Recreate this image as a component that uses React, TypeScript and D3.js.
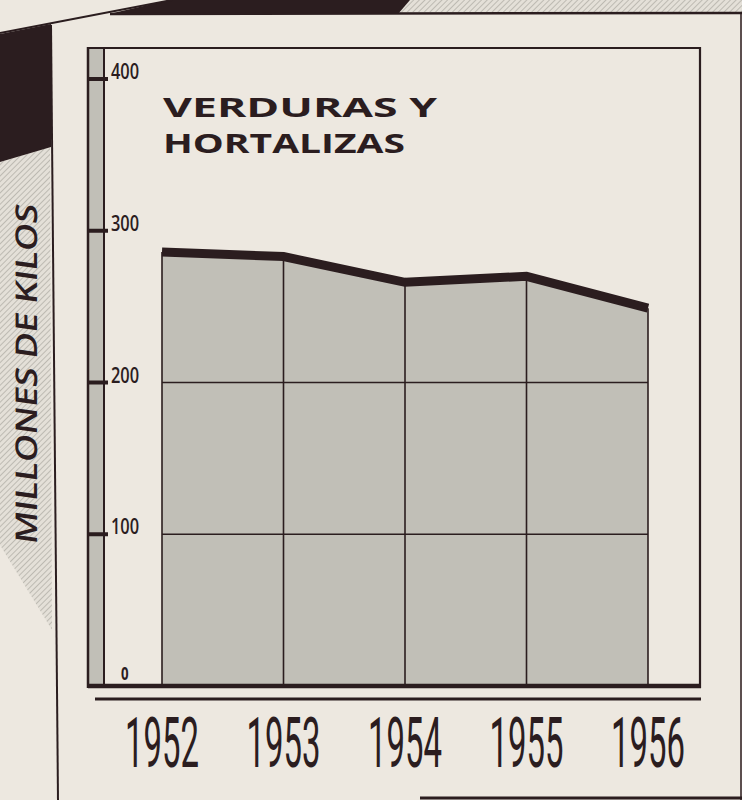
import React from 'react';
import * as d3 from 'd3';

// data
const years = [1952, 1953, 1954, 1955, 1956];
const values = [286, 283, 266, 270, 249];
const yTicks = [0, 100, 200, 300, 400];
const title = ['VERDURAS Y', 'HORTALIZAS'];
const yLabel = 'MILLONES DE KILOS';

const ink = '#2b1d1f';
const cream = '#ede8e0';
const gray = '#c1bfb7';

const App = () => {
  const width = 742;
  const height = 800;

  const x = d3.scaleLinear().domain([1952, 1956]).range([162, 648]);
  const y = d3.scaleLinear().domain([0, 400]).range([686, 79]);

  const pts = years.map((yr, i) => [yr, values[i]] as [number, number]);

  const area = d3.area<[number, number]>()
    .x(d => x(d[0]))
    .y0(y(0))
    .y1(d => y(d[1]));

  const line = d3.line<[number, number]>()
    .x(d => x(d[0]))
    .y(d => y(d[1]));

  const minVal = d3.min(values) as number;

  return (
    <svg width={width} height={height}
      style={{ position: 'absolute', left: 0, top: 0, background: cream }}>
      <defs>
        <pattern id="hatch" width="4" height="4" patternUnits="userSpaceOnUse"
          patternTransform="rotate(45)">
          <rect width="4" height="4" fill="#e4e0d8" />
          <line x1="0" y1="0" x2="0" y2="4" stroke="#b3b0a9" strokeWidth="1.6" />
        </pattern>
      </defs>

      <rect width={width} height={height} fill={cream} />

      {/* background decorations of the page */}
      <polygon points="400,0 742,0 742,12 392,12" fill="url(#hatch)" />
      <polygon points="0,162 50,147 52,630 0,545" fill="url(#hatch)" />
      <polygon points="113,13 170,0 410,0 398,14 113,14" fill={ink} />
      <polygon points="0,34 51,24 51,147 0,162" fill={ink} />
      <line x1={0} y1={33} x2={172} y2={0} stroke={ink} strokeWidth={2} />
      <line x1={110} y1={14} x2={742} y2={13} stroke={ink} strokeWidth={2.5} />
      <line x1={51} y1={25} x2={58} y2={800} stroke={ink} strokeWidth={2} />
      <line x1={741} y1={13} x2={741} y2={800} stroke={ink} strokeWidth={1.5} />
      <line x1={420} y1={798} x2={742} y2={798} stroke={ink} strokeWidth={3} />

      <text transform="translate(37,375) rotate(-90) skewX(-8)" textAnchor="middle"
        fontFamily="'Open Sans'" fontWeight={600} fontSize={30} fill={ink}
        textLength={340} lengthAdjust="spacingAndGlyphs">{yLabel}</text>

      {/* chart frame */}
      <rect x={88} y={48} width={16} height={638} fill={gray} />
      <line x1={88} y1={47} x2={88} y2={688} stroke={ink} strokeWidth={2.5} />
      <line x1={104} y1={48} x2={104} y2={686} stroke={ink} strokeWidth={2} />
      <line x1={87} y1={48} x2={701} y2={48} stroke={ink} strokeWidth={2} />
      <line x1={700} y1={47} x2={700} y2={688} stroke={ink} strokeWidth={2.2} />

      {/* area */}
      <path d={area(pts) as string} fill={gray} />
      {yTicks.filter(t => t > 0 && t < minVal).map(t => (
        <line key={t} x1={x(1952)} x2={x(1956)} y1={y(t)} y2={y(t)}
          stroke={ink} strokeWidth={1.4} />
      ))}
      {pts.map(d => (
        <line key={d[0]} x1={x(d[0])} x2={x(d[0])} y1={y(d[1])} y2={y(0)}
          stroke={ink} strokeWidth={1.6} />
      ))}
      <path d={line(pts) as string} fill="none" stroke={ink} strokeWidth={9}
        strokeLinejoin="miter" strokeLinecap="butt" />

      {/* axis ticks and labels */}
      {yTicks.filter(t => t > 0).map(t => (
        <g key={t}>
          <rect x={88} y={y(t) - 2} width={20} height={4} fill={ink} />
          <text transform={`translate(111,${y(t)}) scale(0.78,1)`}
            fontFamily="'Open Sans'" fontWeight={600} fontSize={21} fill={ink}>{t}</text>
        </g>
      ))}
      <text transform={`translate(121,${y(0) - 6}) scale(0.78,1)`}
        fontFamily="'Open Sans'" fontSize={17} fontWeight={700} fill={ink}>0</text>

      <line x1={88} y1={686} x2={701} y2={686} stroke={ink} strokeWidth={4.5} />
      <line x1={95} y1={699} x2={701} y2={699} stroke={ink} strokeWidth={3} />

      {/* title */}
      <text x={163} y={117} fontFamily="'Open Sans'" fontWeight={700} fontSize={27}
        fill={ink} textLength={274} lengthAdjust="spacingAndGlyphs">{title[0]}</text>
      <text x={163} y={153} fontFamily="'Open Sans'" fontWeight={700} fontSize={27}
        fill={ink} textLength={242} lengthAdjust="spacingAndGlyphs">{title[1]}</text>

      {/* year labels */}
      {years.map(yr => (
        <text key={yr} transform={`translate(${x(yr)},767) scale(0.47,1)`}
          textAnchor="middle" fontFamily="Roboto" fontWeight={400} fontSize={70}
          fill={ink}>{yr}</text>
      ))}
    </svg>
  );
};

export default App;
